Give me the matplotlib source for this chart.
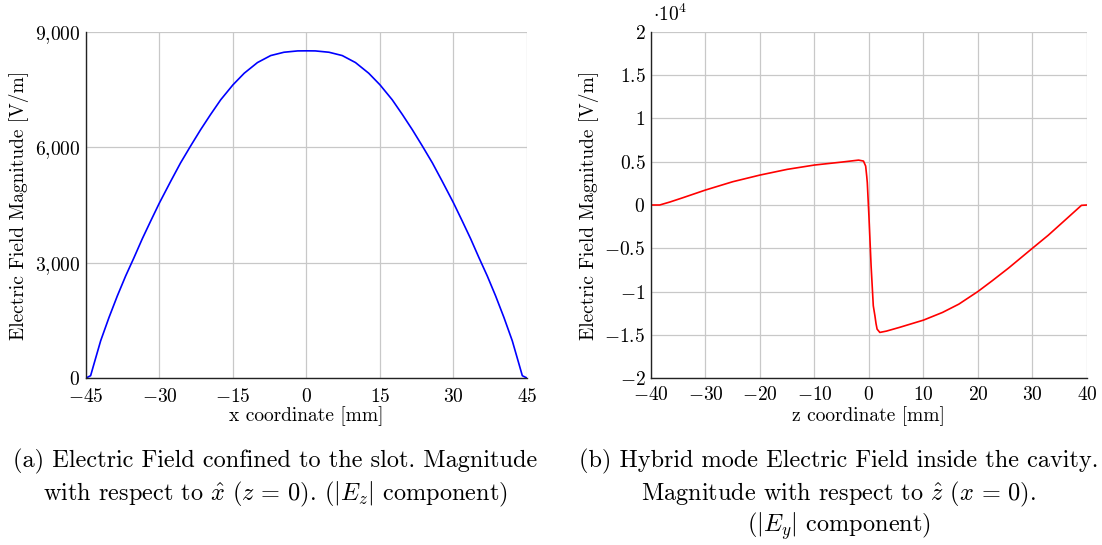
import matplotlib
matplotlib.use("Agg")
import matplotlib.pyplot as plt
from matplotlib.ticker import FuncFormatter, MultipleLocator

plt.rcParams['font.family'] = 'serif'
plt.rcParams['font.serif'] = ['cmr10']
plt.rcParams['mathtext.fontset'] = 'cm'
plt.rcParams['axes.unicode_minus'] = False

# |Ez| along x in the slot (z = 0)
slot_x = [-45.0, -44.05, -43.37, -42.0, -40.3, -38.6, -36.9, -35.2, -33.5, -31.8, -30.0,
          -27.7, -25.7, -23.6, -21.6, -19.6, -17.5, -15.0, -12.7, -10.0, -7.3, -4.6, -1.8,
          0.0,
          1.8, 4.6, 7.3, 10.0, 12.7, 15.0, 17.5, 19.6, 21.6, 23.6, 25.7, 27.7,
          30.0, 31.8, 33.5, 35.2, 36.9, 38.6, 40.3, 42.0, 43.37, 44.05, 45.0]
slot_ez = [0, 60, 363, 968, 1574, 2135, 2654, 3130, 3623, 4081, 4556,
           5118, 5594, 6044, 6459, 6848, 7237, 7626, 7928, 8205, 8387, 8473, 8508,
           8510,
           8508, 8473, 8387, 8205, 7928, 7626, 7237, 6848, 6459, 6044, 5594, 5118,
           4556, 4081, 3623, 3130, 2654, 2135, 1574, 968, 363, 60, 0]

# Ey along z inside the cavity (x = 0)
cav_z = [-40.0, -38.4, -36.5, -34.1, -30.0, -25.0, -20.0, -15.0, -10.0, -5.0, -1.9,
         -1.0, -0.6, -0.4, -0.3, 0.0, 0.4, 0.8, 1.1, 1.3, 1.5, 2.0, 3.2, 5.6,
         10.0, 13.5, 16.5, 20.0, 22.6, 25.6, 30.0, 32.9, 35.9, 39.0, 40.0]
cav_ey = [0, 0, 350, 850, 1730, 2690, 3460, 4120, 4620, 4960, 5190,
          5080, 4500, 3300, 2580, -1270, -7040, -11650, -12810, -13700, -14350, -14730,
          -14580, -14150,
          -13310, -12420, -11460, -10000, -8770, -7300, -5000, -3500, -1800, -40, 0]

caption_a = ["(a) Electric Field confined to the slot. Magnitude",
             r"with respect to $\hat{x}$ $(z\,=\,0)$. $(|E_z|$ component$)$"]
caption_b = ["(b) Hybrid mode Electric Field inside the cavity.",
             r"Magnitude with respect to $\hat{z}$ $(x\,=\,0)$.",
             r"$(|E_y|$ component$)$"]
caption_baselines = [0.1431, 0.0826, 0.0239]

fs = 14
cap_fs = 17.5
grid_col = '#c8c8c8'


def style_axis(ax, xpad):
    ax.spines['top'].set_visible(False)
    ax.spines['right'].set_visible(False)
    for s in ('left', 'bottom'):
        ax.spines[s].set_color('#222222')
        ax.spines[s].set_linewidth(1.0)
    ax.grid(True, color=grid_col, linewidth=0.9)
    ax.set_axisbelow(True)
    ax.tick_params(length=0, labelsize=fs, pad=4)
    ax.tick_params(axis='x', pad=xpad)


def math_num(v, pos):
    if abs(v - round(v)) < 1e-9:
        s = f'{int(round(v)):,}'.replace(',', '{,}')
    else:
        s = f'{v:g}'
    return f'${s}$'


fig = plt.figure(figsize=(11.02, 5.45), dpi=100)

ax1 = fig.add_axes([0.078, 0.3064, 0.4002, 0.6349])
ax1.plot(slot_x, slot_ez, color='blue', linewidth=1.2)
ax1.set_xlim(-45, 45)
ax1.set_ylim(0, 9000)
ax1.xaxis.set_major_locator(MultipleLocator(15))
ax1.yaxis.set_major_locator(MultipleLocator(3000))
ax1.xaxis.set_major_formatter(FuncFormatter(math_num))
ax1.yaxis.set_major_formatter(FuncFormatter(math_num))
style_axis(ax1, 7.5)
ax1.set_xlabel('x coordinate [mm]', fontsize=fs, labelpad=0)
ax1.set_ylabel('Electric Field Magnitude [V/m]', fontsize=fs, labelpad=4)

ax2 = fig.add_axes([0.5907, 0.3064, 0.3956, 0.6349])
ax2.plot(cav_z, [v / 1e4 for v in cav_ey], color='red', linewidth=1.2)
ax2.set_xlim(-40, 40)
ax2.set_ylim(-2, 2)
ax2.xaxis.set_major_locator(MultipleLocator(10))
ax2.yaxis.set_major_locator(MultipleLocator(0.5))
ax2.xaxis.set_major_formatter(FuncFormatter(math_num))
ax2.yaxis.set_major_formatter(FuncFormatter(math_num))
style_axis(ax2, 6)
ax2.set_xlabel('z coordinate [mm]', fontsize=fs, labelpad=1)
ax2.set_ylabel('Electric Field Magnitude [V/m]', fontsize=fs, labelpad=4)
ax2.text(0.005, 1.02, r'$\cdot 10^4$', transform=ax2.transAxes, fontsize=fs,
         ha='left', va='bottom')

# subfigure captions, one text per line
for line, yb in zip(caption_a, caption_baselines):
    fig.text(0.2495, yb, line, fontsize=cap_fs, ha='center', va='baseline')
for line, yb in zip(caption_b, caption_baselines):
    fig.text(0.761, yb, line, fontsize=cap_fs, ha='center', va='baseline')

fig.savefig('out.png', dpi=100)
